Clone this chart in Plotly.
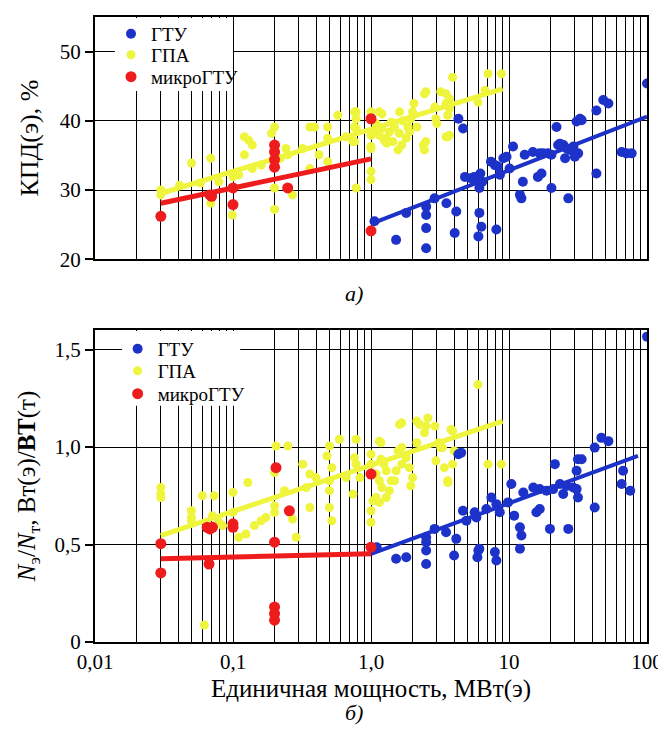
import plotly.graph_objects as go

# ---------------- data ----------------
# Panel a) : electrical efficiency, %
gtu_a_x = [1.06, 1.52, 1.8, 2.51, 2.51, 2.51, 2.51, 2.89, 3.52, 4.04, 4.15, 4.3, 4.65,
           4.8, 5.3, 5.6, 6.1, 6.3, 6.0, 6.0, 6.2, 6.4, 6.1, 7.4, 7.9, 8.3, 9.1, 9.6,
           8.1, 8.6, 10.1, 10.7, 12.0, 12.3, 12.6, 13.0, 14.9, 16.7, 17.7, 19.2, 20.3,
           16.2, 17.2, 20.3, 22.1, 22.7, 23.4, 24.8, 25.5, 26.2, 27.7, 29.3, 30.0, 31.7,
           26.9, 30.9, 32.7, 33.6, 43.0, 43.0, 48.2, 52.5, 65.5, 71.0, 77.4, 100.0]
gtu_a_y = [25.5, 22.8, 26.7, 27.6, 26.4, 24.5, 21.6, 28.8, 28.1, 23.8, 26.9, 40.3, 38.9,
           31.9, 31.7, 31.9, 26.7, 24.7, 23.3, 31.2, 32.4, 31.2, 30.3, 34.1, 33.6, 33.4, 34.6, 34.8,
           24.3, 32.2, 33.1, 36.3, 29.3, 28.8, 31.2, 35.1, 35.5, 35.3, 35.3, 35.3, 35.1,
           31.9, 32.4, 30.3, 39.1, 36.5, 36.7, 36.5, 34.6, 36.0, 35.8, 36.3, 34.8, 35.3,
           28.8, 39.9, 40.3, 40.1, 41.5, 32.4, 43.0, 42.5, 35.5, 35.3, 35.3, 45.4]

gpa_a_x = [0.03, 0.03, 0.041, 0.05, 0.058, 0.069, 0.069, 0.079, 0.099, 0.1, 0.11, 0.121,
           0.13, 0.138, 0.121, 0.138, 0.16, 0.2, 0.19, 0.2, 0.2, 0.2, 0.22, 0.242, 0.25,
           0.27, 0.32, 0.36, 0.39, 0.36, 0.42, 0.485, 0.485, 0.485, 0.574, 0.66, 0.74,
           0.76, 0.78, 0.78, 0.76, 0.78, 0.76, 0.78, 1.0, 1.0, 1.0, 1.0, 1.0, 1.0,
           1.09, 1.15, 1.2, 1.2, 1.36, 1.48, 1.6, 1.44, 1.67, 1.8, 1.29, 1.15, 1.57,
           1.85, 1.61, 1.94, 2.0, 2.05, 1.9, 2.15, 2.44, 2.4, 2.5, 2.44, 2.9, 2.95,
           3.0, 3.2, 3.5, 3.7, 3.5, 3.7, 3.6, 3.9, 3.5, 3.7, 1.1, 1.25, 1.4, 1.3, 1.05,
           1.7, 2.5, 5.96, 7.05, 8.8, 6.7, 3.6]
gpa_a_y = [30.0, 29.3, 30.7, 33.9, 31.0, 34.6, 28.1, 31.2, 26.4, 31.9, 32.2, 37.7,
           37.2, 36.5, 35.1, 33.1, 33.6, 39.1, 38.2, 30.3, 27.2, 35.1, 34.6, 36.0, 35.1,
           29.3, 36.0, 39.1, 39.1, 33.1, 35.1, 39.1, 37.5, 34.1, 40.8, 37.7, 37.0,
           41.3, 40.3, 30.3, 39.1, 38.9, 37.0, 41.3, 41.3, 36.3, 37.9, 36.0, 32.7, 31.5,
           39.6, 41.3, 41.0, 38.9, 38.4, 39.1, 38.2, 37.0, 36.5, 37.5, 37.5, 37.9, 35.8,
           39.1, 41.3, 40.3, 41.3, 42.5, 38.4, 39.1, 43.9, 36.5, 37.0, 35.8, 42.0, 40.3,
           39.6, 44.2, 43.9, 43.2, 42.5, 41.8, 40.8, 46.3, 37.7, 37.9, 38.6, 37.2, 39.8, 36.8, 38.2,
           40.0, 44.2, 42.7, 46.8, 46.8, 44.4, 37.7]

micro_a_x = [0.03, 0.068, 0.07, 0.1, 0.1, 0.2, 0.2, 0.2, 0.2, 0.249, 1.0, 1.0]
micro_a_y = [26.2, 29.3, 29.1, 30.3, 27.9, 36.5, 35.5, 34.4, 33.3, 30.3, 40.3, 24.1]

# trend lines of panel a) (end points read from the picture)
gtu_a_fit_x = [1.0, 100.0]
gtu_a_fit_y = [25.1, 40.6]
gpa_a_fit_x = [0.03, 9.0]
gpa_a_fit_y = [29.5, 44.6]
micro_a_fit_x = [0.03, 1.0]
micro_a_fit_y = [28.1, 34.5]

# Panel б) : specific ratio
gtu_b_x = [1.1, 1.52, 1.8, 2.51, 2.51, 2.51, 2.51, 2.89, 3.5, 4.0, 4.15, 4.3, 4.5,
           4.64, 4.91, 5.64, 5.8, 6.85, 7.45, 8.1, 8.57, 9.84, 6.0, 5.9, 6.1, 7.9, 8.1,
           10.4, 12.7, 15.0, 16.7, 18.7, 20.9, 23.4, 24.7, 26.1, 29.2, 30.9,
           10.9, 12.0, 12.3, 12.0, 15.8, 16.7, 19.8, 21.5, 26.9, 31.6, 33.6, 30.9, 31.6,
           41.8, 41.8, 46.7, 52.5, 67.1, 65.5, 75.6, 100.0]
gtu_b_y = [0.486, 0.427, 0.435, 0.537, 0.512, 0.469, 0.40, 0.58, 0.563, 0.444, 0.529, 0.963, 0.971,
           0.673, 0.622, 0.665, 0.639, 0.682, 0.741, 0.707, 0.665, 0.716, 0.469, 0.435, 0.478, 0.461, 0.418,
           0.81, 0.767, 0.792, 0.784, 0.776, 0.784, 0.81, 0.759, 0.80, 0.792, 0.784,
           0.648, 0.588, 0.546, 0.478, 0.665, 0.682, 0.58, 0.912, 0.58, 0.937, 0.937, 0.878, 0.741,
           0.997, 0.69, 1.047, 1.03, 0.878, 0.81, 0.776, 1.566]

gpa_b_x = [0.03, 0.03, 0.03, 0.05, 0.05, 0.05, 0.06, 0.062, 0.073, 0.071, 0.079, 0.084,
           0.1, 0.1, 0.11, 0.124, 0.128, 0.143, 0.16, 0.173, 0.205, 0.2, 0.2, 0.2, 0.25,
           0.236, 0.27, 0.287, 0.32, 0.36, 0.4, 0.36, 0.34, 0.5, 0.59, 0.48, 0.52, 0.5,
           0.5, 0.5, 0.52, 0.66, 0.78, 0.76, 0.78, 0.83, 0.74, 1.0, 1.0, 1.0, 1.0,
           1.15, 1.18, 1.18, 1.24, 1.09, 1.15, 1.2, 1.09, 1.03, 1.15, 1.29, 1.36, 1.4,
           1.29, 1.61, 1.67, 1.57, 1.67, 1.8, 1.9, 2.0, 1.94, 2.15, 1.52, 1.67, 1.48,
           2.15, 2.25, 2.58, 2.5, 2.44, 2.9, 2.95, 3.1, 3.2, 3.3, 3.4, 3.6, 3.9, 3.9,
           3.6, 3.8, 4.0, 5.96, 7.05, 8.8]
gpa_b_y = [0.792, 0.759, 0.741, 0.673, 0.639, 0.622, 0.75, 0.087, 0.75, 0.648, 0.614, 0.597,
           0.767, 0.665, 0.537, 0.554, 0.818, 0.597, 0.622, 0.639, 1.005, 0.869, 0.699, 0.665, 1.005,
           0.776, 0.631, 0.537, 0.912, 0.861, 0.843, 0.69, 0.792, 1.005, 1.04, 0.954, 0.894,
           0.827, 0.776, 0.69, 0.622, 0.843, 1.04, 0.945, 0.912, 0.843, 0.759, 0.963, 0.912, 0.673, 0.614,
           1.03, 1.022, 0.937, 0.912, 0.861, 0.827, 0.792, 0.741, 0.724, 0.716, 0.741, 0.776, 0.827,
           0.878, 1.116, 1.124, 0.98, 0.997, 0.945, 0.894, 0.843, 0.801, 1.022, 0.878, 0.912, 0.827,
           1.133, 1.116, 1.149, 1.107, 1.073, 1.107, 0.929, 1.022, 0.997, 0.997, 0.894, 0.827, 0.912, 1.082,
           0.818, 1.09, 0.98, 1.32, 0.912, 0.912]

micro_b_x = [0.03, 0.03, 0.065, 0.068, 0.071, 0.067, 0.1, 0.1, 0.205, 0.2, 0.2, 0.2, 0.2,
             0.256, 1.0, 1.0]
micro_b_y = [0.504, 0.354, 0.588, 0.58, 0.588, 0.40, 0.606, 0.588, 0.894, 0.512, 0.18, 0.146, 0.112,
             0.673, 0.861, 0.486]

gtu_b_fit_x = [1.0, 86.0]
gtu_b_fit_y = [0.452, 0.954]
gpa_b_fit_x = [0.03, 9.0]
gpa_b_fit_y = [0.546, 1.133]
micro_b_fit_x = [0.03, 1.0]
micro_b_fit_y = [0.427, 0.452]

# axis ticks
decades = [0.01, 0.1, 1.0, 10.0, 100.0]
decade_labels = ["0,01", "0,1", "1,0", "10", "100"]
mults = [2, 3, 4, 5, 6, 7, 8, 9]
ya_ticks = [20, 30, 40, 50]
ya_labels = ["20", "30", "40", "50"]
yb_ticks = [0, 0.5, 1.0, 1.5]
yb_labels = ["0", "0,5", "1,0", "1,5"]

series_names = ["ГТУ", "ГПА", "микроГТУ"]

# ---------------- styling ----------------
FONT = "Liberation Serif"
BLUE = "#1c32c8"
YELLOW = "#eef53c"
RED = "#ee1c1c"

minor_vals = [d * m for d in decades[:-1] for m in mults]

fig = go.Figure()

def add_panel(xa, ya, legends, data):
    (gx, gy, gfx, gfy), (px_, py_, pfx, pfy), (mx, my, mfx, mfy) = data
    # ГПА
    fig.add_trace(go.Scatter(x=px_, y=py_, mode="markers", name=series_names[1],
                             marker=dict(color=YELLOW, size=9), xaxis=xa, yaxis=ya,
                             legend=legends[1]))
    fig.add_trace(go.Scatter(x=pfx, y=pfy, mode="lines", line=dict(color=YELLOW, width=5),
                             showlegend=False, xaxis=xa, yaxis=ya, hoverinfo="skip"))
    # ГТУ
    fig.add_trace(go.Scatter(x=gx, y=gy, mode="markers", name=series_names[0],
                             marker=dict(color=BLUE, size=10), xaxis=xa, yaxis=ya,
                             legend=legends[0]))
    fig.add_trace(go.Scatter(x=gfx, y=gfy, mode="lines", line=dict(color=BLUE, width=4),
                             showlegend=False, xaxis=xa, yaxis=ya, hoverinfo="skip"))
    # микроГТУ
    fig.add_trace(go.Scatter(x=mx, y=my, mode="markers", name=series_names[2],
                             marker=dict(color=RED, size=11), xaxis=xa, yaxis=ya,
                             legend=legends[2]))
    fig.add_trace(go.Scatter(x=mfx, y=mfy, mode="lines", line=dict(color=RED, width=5),
                             showlegend=False, xaxis=xa, yaxis=ya, hoverinfo="skip"))

add_panel("x", "y", ["legend", "legend2", "legend3"], (
    (gtu_a_x, gtu_a_y, gtu_a_fit_x, gtu_a_fit_y),
    (gpa_a_x, gpa_a_y, gpa_a_fit_x, gpa_a_fit_y),
    (micro_a_x, micro_a_y, micro_a_fit_x, micro_a_fit_y)))
add_panel("x2", "y2", ["legend4", "legend5", "legend6"], (
    (gtu_b_x, gtu_b_y, gtu_b_fit_x, gtu_b_fit_y),
    (gpa_b_x, gpa_b_y, gpa_b_fit_x, gpa_b_fit_y),
    (micro_b_x, micro_b_y, micro_b_fit_x, micro_b_fit_y)))

axis_common = dict(showline=True, linecolor="black", linewidth=2, mirror=True,
                   gridcolor="black", gridwidth=1.2, zeroline=False, automargin=False,
                   tickfont=dict(family=FONT, size=21, color="black"))

xcommon = dict(axis_common, type="log", range=[-2, 2], tickvals=decades, ticktext=decade_labels,
               showgrid=True, ticks="",
               minor=dict(tickvals=minor_vals, showgrid=True, gridcolor="black",
                          gridwidth=1.2, ticks=""))

def leg(x, y):
    return dict(x=x, y=y, xanchor="left", yanchor="middle", bgcolor="rgba(0,0,0,0)",
                borderwidth=0, font=dict(family=FONT, size=19, color="black"),
                tracegroupgap=0, itemwidth=30)

# white patches behind the legends (they hide the grid, as in the original;
# no data lies in these corners)
legend_patches = [
    dict(type="rect", xref="x domain", yref="y domain", x0=0.036, x1=0.25, y0=0.695, y1=0.996,
         fillcolor="white", line=dict(width=0), layer="above"),
    dict(type="rect", xref="x2 domain", yref="y2 domain", x0=0.049, x1=0.263, y0=0.757, y1=0.997,
         fillcolor="white", line=dict(width=0), layer="above"),
]

# the page body adds an 8 px margin, so the figure is 8 px smaller than the window
fig.update_layout(
    template="none",
    width=658, height=739, autosize=False,
    margin=dict(l=87, r=19, t=7, b=105, pad=0),
    paper_bgcolor="white", plot_bgcolor="white",
    font=dict(family=FONT, color="black"),
    showlegend=True,
    xaxis=dict(xcommon, domain=[0, 1], anchor="y", showticklabels=False),
    yaxis=dict(axis_common, domain=[0.6124, 1], anchor="x", range=[20, 55],
               tickvals=ya_ticks, ticktext=ya_labels, ticks="outside", ticklen=8,
               tickcolor="black", tickwidth=1.5, showgrid=True,
               title=dict(text="КПД(э), %", font=dict(family=FONT, size=26), standoff=14)),
    xaxis2=dict(xcommon, domain=[0, 1], anchor="y2", showticklabels=True,
                title=dict(text="Единичная мощность, МВт(э)", font=dict(family=FONT, size=25),
                           standoff=6)),
    yaxis2=dict(axis_common, domain=[0, 0.4992], anchor="x2", range=[0, 1.6],
                tickvals=yb_ticks, ticktext=yb_labels, ticks="outside", ticklen=8,
                tickcolor="black", tickwidth=1.5, showgrid=True,
                title=dict(text="<i>N</i><sub>э</sub>/<i>N</i><sub>т</sub>, Вт(э)/<b>ВТ</b>(т)",
                           font=dict(family=FONT, size=25), standoff=12)),
    legend=leg(0.029, 0.9729),
    legend2=leg(0.029, 0.9394),
    legend3=leg(0.029, 0.9043),
    legend4=leg(0.041, 0.4689),
    legend5=leg(0.041, 0.4338),
    legend6=leg(0.041, 0.3971),
    shapes=legend_patches,
    annotations=[
        dict(text="<i>а)</i>", x=0.469, y=0.558, xref="paper", yref="paper",
             showarrow=False, font=dict(family=FONT, size=22, color="black")),
        dict(text="<i>б)</i>", x=0.469, y=-0.1356, xref="paper", yref="paper",
             showarrow=False, font=dict(family=FONT, size=22, color="black")),
    ],
)

fig.write_html("out.html")
